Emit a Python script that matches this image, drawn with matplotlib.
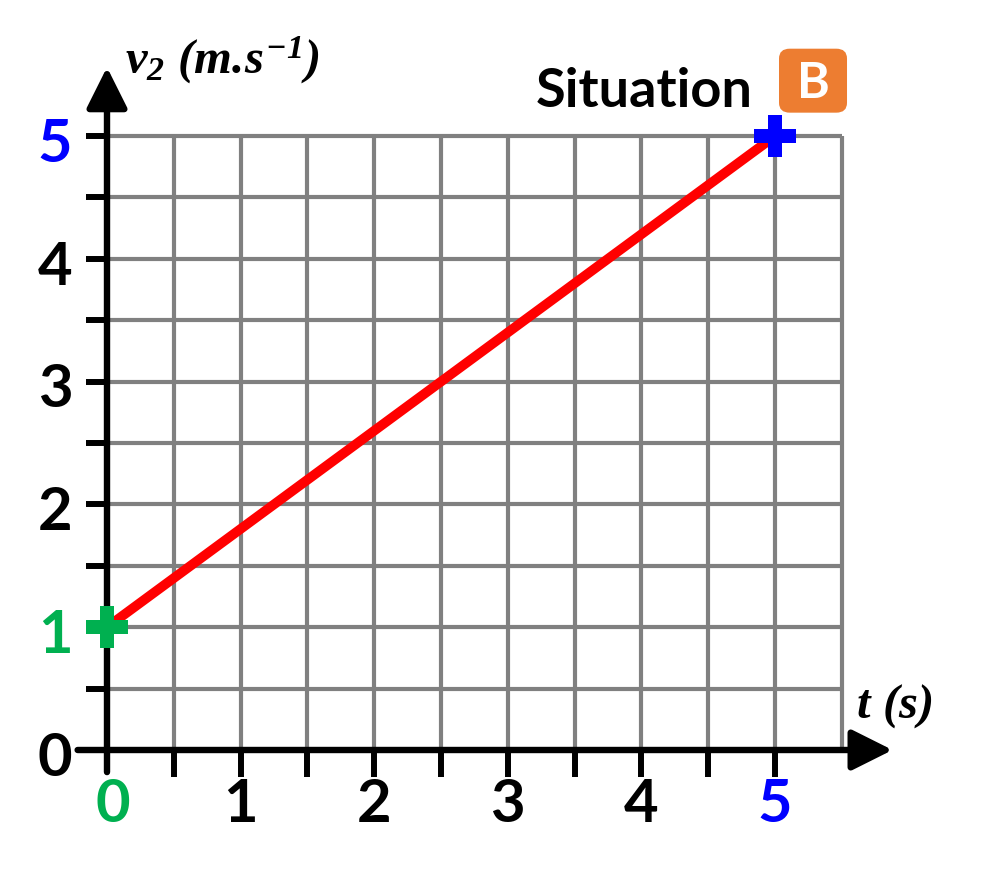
import matplotlib
matplotlib.use('Agg')
import matplotlib.pyplot as plt
from matplotlib.patches import FancyArrowPatch, FancyBboxPatch
from matplotlib import rcParams

rcParams.update({'mathtext.fontset': 'custom',
                 'mathtext.it': 'Liberation Serif:italic:bold',
                 'mathtext.rm': 'Liberation Serif:italic:bold',
                 'mathtext.bf': 'Liberation Serif:italic:bold'})

# data
t_vals = [0, 5]
v_vals = [1, 5]
x_ticks = [0, 1, 2, 3, 4, 5]
y_ticks = [0, 1, 2, 3, 4, 5]
x_colors = ['#00b050', 'black', 'black', 'black', 'black', '#0000ff']
y_colors = ['black', '#00b050', 'black', 'black', 'black', '#0000ff']
grid_x = [0.5, 1, 1.5, 2, 2.5, 3, 3.5, 4, 4.5, 5, 5.5]
grid_y = [0.5, 1, 1.5, 2, 2.5, 3, 3.5, 4, 4.5, 5]

W, H = 1000, 882
X0, Y0 = 107, 750          # pixel of origin
SX, SY = 133.6, 122.8      # pixels per unit

fig = plt.figure(figsize=(W/100, H/100), dpi=100)
ax = fig.add_axes([0, 0, 1, 1])
ax.set_xlim(-X0/SX, (W-X0)/SX)
ax.set_ylim((Y0-H)/SY, Y0/SY)
ax.axis('off')

GRID = '#808080'
ax.vlines(grid_x, 0, 5, color=GRID, lw=3.0, zorder=1)
ax.hlines(grid_y, 0, 5.5, color=GRID, lw=3.0, zorder=1)

# axes with arrows
AK = dict(arrowstyle='-|>,head_length=1.0,head_width=0.5', mutation_scale=25,
          lw=4.6, color='black', shrinkA=0, shrinkB=0, zorder=3)
ax.add_patch(FancyArrowPatch((-0.22, 0), (5.88, 0), **AK))
ax.add_patch(FancyArrowPatch((0, -0.18), (0, 5.56), **AK))

# small ticks
ax.vlines(grid_x[:-1], -0.22, 0, color='black', lw=4.3, zorder=3)
ax.hlines(grid_y, -0.16, 0, color='black', lw=4.3, zorder=3)

# tick labels
TF = dict(family='Lato', fontweight='bold', fontsize=43)
for v, c in zip(y_ticks, y_colors):
    ax.text(-0.26, v - 0.21, str(v), ha='right', va='baseline', color=c, **TF)
for v, c in zip(x_ticks, x_colors):
    ax.text(v + (0.04 if v == 0 else 0), -0.585, str(v), ha='center', va='baseline', color=c, **TF)

# line and points
ax.plot(t_vals, v_vals, color='#ff0000', lw=7, solid_capstyle='butt', zorder=4)
ax.plot(t_vals[:1], v_vals[:1], 'P', ms=30, color='#00b050', mew=0, zorder=5)
ax.plot(t_vals[1:], v_vals[1:], 'P', ms=30, color='#0000ff', mew=0, zorder=5)

# axis titles
ax.text(0.135, 5.51, r'$v_2\ (m.\!s^{-1})$', ha='left', va='baseline', fontsize=35)
ax.text(5.61, 0.26, r'$t\ (s)$', ha='left', va='baseline', fontsize=35)

# situation label
ax.text(3.21, 5.236, 'Situation', ha='left', va='baseline', family='Lato',
        fontweight='bold', fontsize=39, color='black')
ax.add_patch(FancyBboxPatch((5.03, 5.19), 0.509, 0.521,
             boxstyle='round,pad=0,rounding_size=0.08', facecolor='#ed7d31',
             edgecolor='none', zorder=3))
ax.text(5.284, 5.43, 'B', ha='center', va='center', family='Lato',
        fontweight='bold', fontsize=36, color='white', zorder=4)

fig.savefig('out.png', dpi=100, facecolor='white')
